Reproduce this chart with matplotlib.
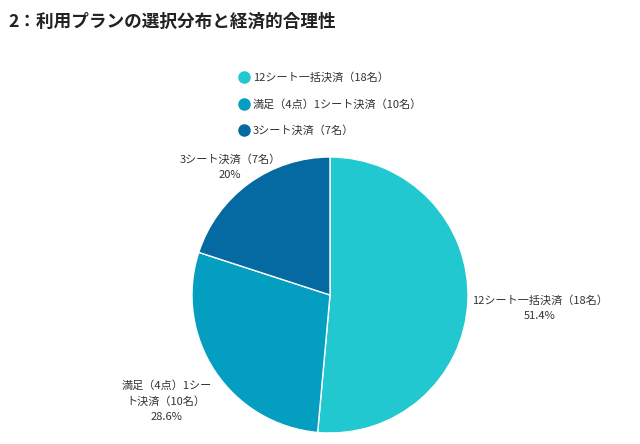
import numpy as np
import matplotlib.pyplot as plt
from matplotlib.lines import Line2D

plt.rcParams['font.family'] = ['Noto Sans CJK JP', 'DejaVu Sans']

# data
plans = ['12シート一括決済（18名）', '満足（4点）1シート決済（10名）', '3シート決済（7名）']
slice_labels = ['12シート一括決済（18名）', '満足（4点）1シー\nト決済（10名）', '3シート決済（7名）']
counts = [18, 10, 7]
colors = ['#21c8cf', '#039ec0', '#056aa1']

W, H = 640, 444
fig = plt.figure(figsize=(W / 100, H / 100), dpi=100)

# pie area: center (330, 295) px, radius 138 px
cx, cy, r = 330, 295, 138
ax = fig.add_axes([(cx - r) / W, (H - cy - r) / H, 2 * r / W, 2 * r / H])
wedges, _ = ax.pie(counts, colors=colors, startangle=90, counterclock=False,
                   wedgeprops=dict(edgecolor='white', linewidth=1))
ax.set_xlim(-1, 1)
ax.set_ylim(-1, 1)
ax.set_aspect('equal')

total = sum(counts)
for w, lab, c in zip(wedges, slice_labels, counts):
    pct = 100 * c / total
    pct_txt = f'{pct:.1f}'.rstrip('0').rstrip('.') + '%'
    ang = np.deg2rad((w.theta1 + w.theta2) / 2)
    x, y = 1.03 * np.cos(ang), 1.03 * np.sin(ang)
    if x > 0.3:
        ha, va = 'left', 'center'
        y -= 0.05
    elif y > 0.3:
        ha, va = 'center', 'bottom'
        x -= 0.12
    else:
        ha, va = 'right', 'top'
        y -= 0.05
    ax.text(x, y, lab + '\n' + pct_txt, ha=ha, va=va, multialignment='center',
            fontsize=8, color='#333333', linespacing=1.6)

# title
fig.text(8 / W, 1 - 22 / H, '2：利用プランの選択分布と経済的合理性', fontsize=12.7,
         fontweight='bold', color='#222222', va='center', ha='left')

# legend
handles = [Line2D([], [], marker='o', linestyle='none', markersize=8,
                  markerfacecolor=col, markeredgecolor=col) for col in colors]
fig.legend(handles, plans, loc='upper center', bbox_to_anchor=(cx / W, 1 - 62 / H),
           frameon=False, fontsize=8, labelspacing=1.45, handletextpad=0.3,
           labelcolor='#333333', handlelength=1.0)

fig.savefig('out.png', dpi=100, facecolor='white')
